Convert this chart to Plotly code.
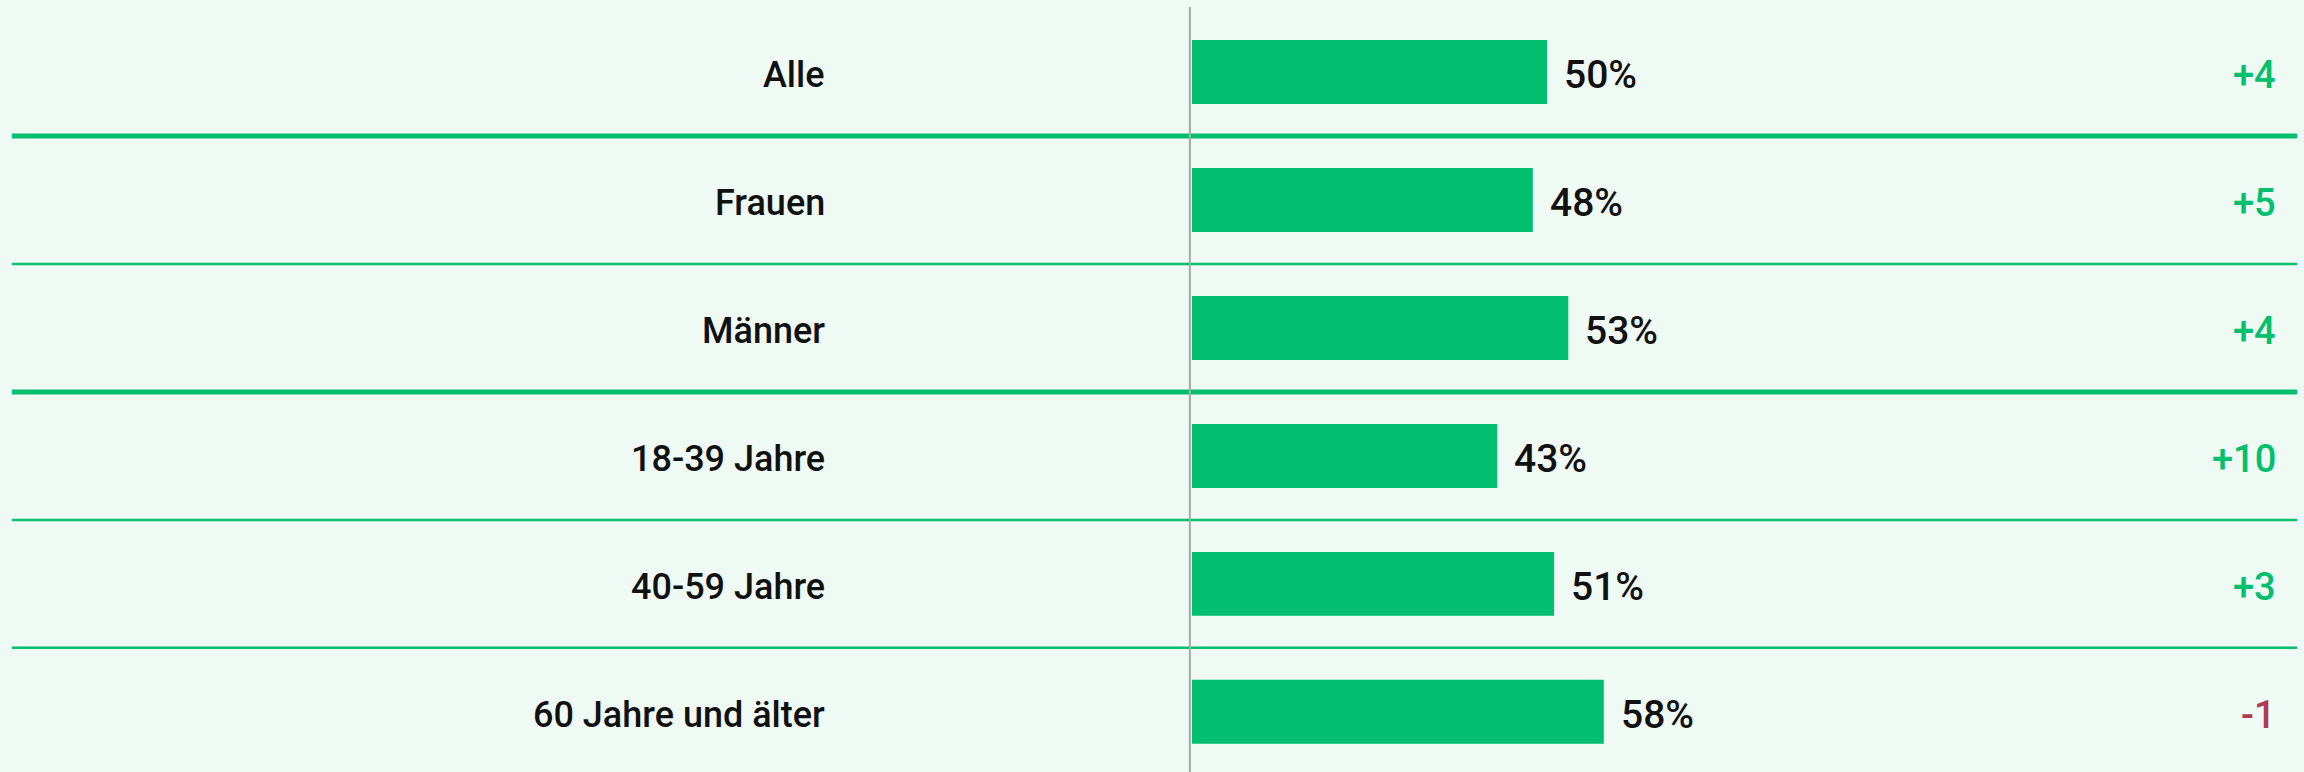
import plotly.graph_objects as go

# data
groups = ["Alle", "Frauen", "Männer", "18-39 Jahre", "40-59 Jahre", "60 Jahre und älter"]
shares = [50, 48, 53, 43, 51, 58]
changes = [4, 5, 4, 10, 3, -1]
thick_after = ["Alle", "Männer"]

W, H = 2304, 772
bg = "#F0FAF5"
green = "#00BF6F"
red = "#B03A4D"
font = "Roboto"

fig = go.Figure(
    go.Bar(
        y=groups,
        x=shares,
        orientation="h",
        marker=dict(color=green, line=dict(width=0)),
        width=0.5,
        hoverinfo="skip",
    )
)

# percent labels next to bars
for g, v in zip(groups, shares):
    fig.add_annotation(
        x=v, y=g, text=f"{v}%", showarrow=False,
        xanchor="left", xshift=15, yshift=-3,
        font=dict(family=font, size=39, color="#111111", weight=500),
    )

# category labels (left) and changes (right)
for g, c in zip(groups, changes):
    fig.add_annotation(
        x=827 / W, xref="paper", y=g, text=g, showarrow=False,
        xanchor="right", yshift=-3,
        font=dict(family=font, size=36, color="#111111", weight=500),
    )
    fig.add_annotation(
        x=2278 / W, xref="paper", y=g, text=f"{c:+d}", showarrow=False,
        xanchor="right", yshift=-3,
        font=dict(family=font, size=38, color=green if c >= 0 else red, weight=500),
    )

# separator lines between rows
for i in range(len(groups) - 1):
    thick = groups[i] in thick_after
    fig.add_shape(
        type="line", xref="paper", yref="y",
        x0=12 / W, x1=2297 / W, y0=i + 0.5, y1=i + 0.5,
        line=dict(color=green, width=5 if thick else 2.5),
        layer="below",
    )

# vertical axis line
fig.add_shape(
    type="line", xref="x", yref="paper",
    x0=-0.3, x1=-0.3, y0=0, y1=1 - 7 / H,
    line=dict(color="#A8A8A8", width=2),
)

px_per = 7.1
x0_px = 1192
fig.update_layout(
    width=W, height=H,
    margin=dict(l=0, r=0, t=0, b=0),
    paper_bgcolor=bg, plot_bgcolor=bg,
    showlegend=False,
    xaxis=dict(
        range=[-x0_px / px_per, (W - x0_px) / px_per],
        visible=False, fixedrange=True,
    ),
    yaxis=dict(
        type="category", categoryorder="array", categoryarray=groups,
        range=[5.47, -0.5625], visible=False, fixedrange=True,
    ),
)

fig.write_html(
    "out.html",
    config={"displayModeBar": False},
    post_script="document.body.style.margin='0';",
)
